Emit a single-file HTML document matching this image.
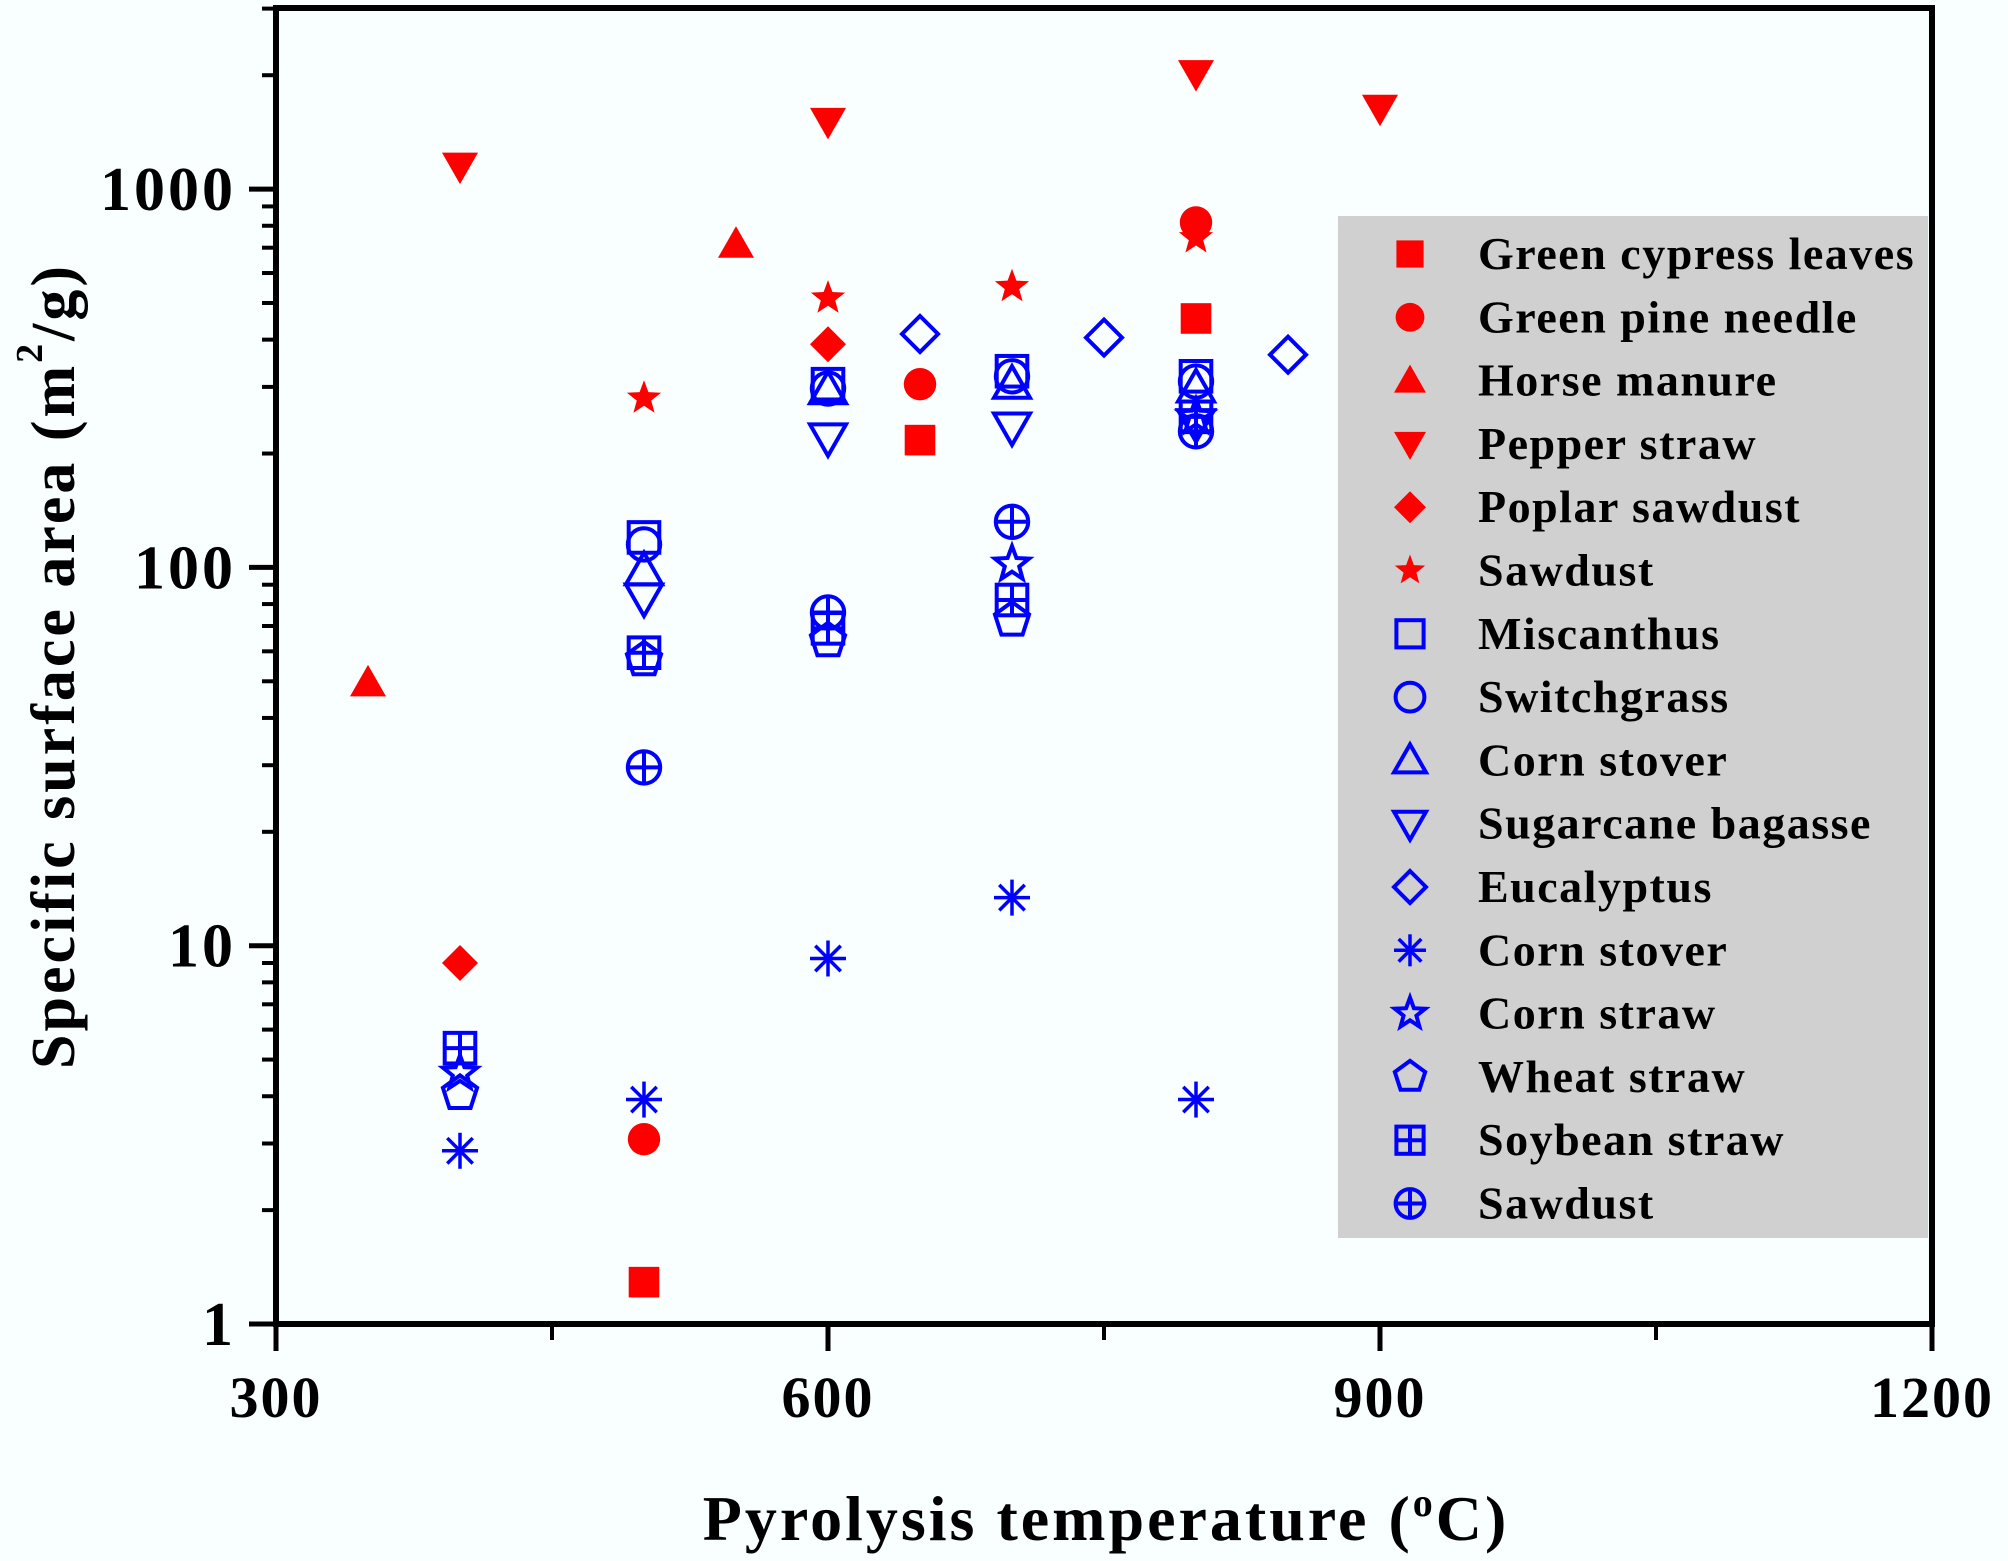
<!DOCTYPE html>
<html><head><meta charset="utf-8"><style>
body{margin:0;background:#f9fefe;}
svg{display:block;font-family:"Liberation Serif",serif;font-weight:bold;}
</style></head><body>
<svg id="chart" width="2008" height="1561" xmlns="http://www.w3.org/2000/svg">
<rect width="2008" height="1561" fill="#f9fefe"/>
<g id="axes"></g>
<g id="marks"></g>
<g id="legend"></g>
<text x="54" y="666" transform="rotate(-90 54 666)" text-anchor="middle" dominant-baseline="central" font-size="62" letter-spacing="3">Specific surface area (m<tspan font-size="38" dy="-24">2</tspan><tspan dy="24">/g)</tspan></text>
<text x="1106" y="1540" text-anchor="middle" font-size="64" letter-spacing="3">Pyrolysis temperature (<tspan font-size="40" dy="-24">o</tspan><tspan dy="24">C)</tspan></text>
</svg>
<script>
const xTicks=[300,600,900,1200];
const xMinor=[450,750,1050];
const yTicks=[1,10,100,1000];
const yTickLabels=["1","10","100","1000"];
const seriesNames=["Green cypress leaves","Green pine needle","Horse manure","Pepper straw","Poplar sawdust","Sawdust","Miscanthus","Switchgrass","Corn stover","Sugarcane bagasse","Eucalyptus","Corn stover","Corn straw","Wheat straw","Soybean straw","Sawdust"];
const seriesShapes=["square","circle","triup","tridown","diamond","star","square","circle","triup","tridown","diamond","asterisk","star","pentagon","squareplus","circleplus"];
const seriesFilled=[true,true,true,true,true,true,false,false,false,false,false,false,false,false,false,false];
const sT=[
[500,650,800],[500,650,800],[350,550],[400,600,800,900],[400,600],[500,600,700,800],
[500,600,700,800],[500,600,700,800],[500,600,700,800],[500,600,700,800],[650,750,850],
[400,500,600,700,800],[400,700,800],[400,500,600,700],[400,500,600,700,800],[500,600,700,800]];
const sV=[
[1.29,217,455],[3.08,305,816],[49.5,715],[1150,1510,2020,1635],[9.0,389],[280,515,552,743],
[120,305,330,320],[115,297,320,310],[98,295,305,298],[83,220,235,240],[414,405,365],
[2.87,3.92,9.25,13.4,3.92],[4.6,102,250],[4.07,57,64,72.6],[5.36,59.5,69,82,250],[29.6,76,132,229]];
const NS="http://www.w3.org/2000/svg";
const L=276,R=1932,T=8,B=1324;
function xs(t){return L+(t-300)/900*(R-L);}
function ys(v){return B-Math.log10(v)*378.3;}
function mk(tag,at,parent){const e=document.createElementNS(NS,tag);for(const k in at)e.setAttribute(k,at[k]);parent.appendChild(e);return e;}
const axes=document.getElementById('axes');
const frame=mk('rect',{x:L,y:T,width:R-L,height:B-T,fill:'none',stroke:'#000','stroke-width':6},axes);


xTicks.forEach(t=>{const l=mk('line',{x1:xs(t),x2:xs(t),y1:B,y2:B+27,stroke:'#000','stroke-width':5},axes);


const tx=mk('text',{x:xs(t),y:B+93,'text-anchor':'middle','font-size':58,'letter-spacing':2},axes);tx.textContent=t;

});
xMinor.forEach(t=>{const l=mk('line',{x1:xs(t),x2:xs(t),y1:B,y2:B+16,stroke:'#000','stroke-width':4},axes);

});
yTicks.forEach((v,i)=>{const l=mk('line',{x1:L-27,x2:L,y1:ys(v),y2:ys(v),stroke:'#000','stroke-width':5},axes);


const tx=mk('text',{x:L-40,y:ys(v)+21,'text-anchor':'end','font-size':62,'letter-spacing':3},axes);tx.textContent=yTickLabels[i];


for(let m=2;m<=9;m++){const mv=v*m;if(ys(mv)<T)break;const ml=mk('line',{x1:L-14,x2:L,y1:ys(mv),y2:ys(mv),stroke:'#000','stroke-width':4},axes);

}});
function marker(shape,filled,color,cx,cy,s,parent){
const g=mk('g',{},parent);const sw=4;
const st=filled?{fill:color,stroke:'none'}:{fill:'none',stroke:color,'stroke-width':sw};
const r=s/2;
const poly=pts=>mk('polygon',Object.assign({points:pts.map(p=>(cx+p[0]).toFixed(1)+','+(cy+p[1]).toFixed(1)).join(' ')},st),g);
if(shape==='square'||shape==='squareplus'){mk('rect',Object.assign({x:cx-r*0.85,y:cy-r*0.85,width:r*1.7,height:r*1.7},st),g);
if(shape==='squareplus'){mk('line',{x1:cx-r*0.85,x2:cx+r*0.85,y1:cy,y2:cy,stroke:color,'stroke-width':sw},g);mk('line',{x1:cx,x2:cx,y1:cy-r*0.85,y2:cy+r*0.85,stroke:color,'stroke-width':sw},g);}}
else if(shape==='circle'||shape==='circleplus'){mk('circle',Object.assign({cx:cx,cy:cy,r:r*0.9},st),g);
if(shape==='circleplus'){mk('line',{x1:cx-r*0.9,x2:cx+r*0.9,y1:cy,y2:cy,stroke:color,'stroke-width':sw},g);mk('line',{x1:cx,x2:cx,y1:cy-r*0.9,y2:cy+r*0.9,stroke:color,'stroke-width':sw},g);}}
else if(shape==='triup')poly([[0,-r],[r,r*0.75],[-r,r*0.75]]);
else if(shape==='tridown')poly([[0,r],[r,-r*0.75],[-r,-r*0.75]]);
else if(shape==='diamond')poly([[0,-r],[r,0],[0,r],[-r,0]]);
else if(shape==='pentagon'){const p=[];for(let i=0;i<5;i++){const a=-Math.PI/2+i*2*Math.PI/5;p.push([r*Math.cos(a),r*Math.sin(a)]);}poly(p);}
else if(shape==='star'){const p=[];for(let i=0;i<10;i++){const a=-Math.PI/2+i*Math.PI/5;const rr=i%2?r*0.42:r;p.push([rr*Math.cos(a),rr*Math.sin(a)]);}poly(p);}
else if(shape==='asterisk'){for(let i=0;i<4;i++){const a=i*Math.PI/4;mk('line',{x1:cx-r*Math.cos(a),y1:cy-r*Math.sin(a),x2:cx+r*Math.cos(a),y2:cy+r*Math.sin(a),stroke:color,'stroke-width':3.5},g);}}
return g;}
const marks=document.getElementById('marks');
seriesNames.forEach((n,i)=>{const color=seriesFilled[i]?'#ff0000':'#0000ff';
const sg=mk('g',{},marks);


sT[i].forEach((t,j)=>{const m=marker(seriesShapes[i],seriesFilled[i],color,xs(t),ys(sV[i][j]),36,sg);

});});
const lg=document.getElementById('legend');
const box=mk('rect',{x:1338,y:216,width:590,height:1022,fill:'#d0d0d0'},lg);


seriesNames.forEach((n,i)=>{const cy=254+i*63.3;const color=seriesFilled[i]?'#ff0000':'#0000ff';
const e=mk('g',{},lg);


marker(seriesShapes[i],seriesFilled[i],color,1410,cy,32,e);
const tx=mk('text',{x:1478,y:cy+15,'font-size':46,'letter-spacing':1.5},e);tx.textContent=n;});
</script>
</body></html>
